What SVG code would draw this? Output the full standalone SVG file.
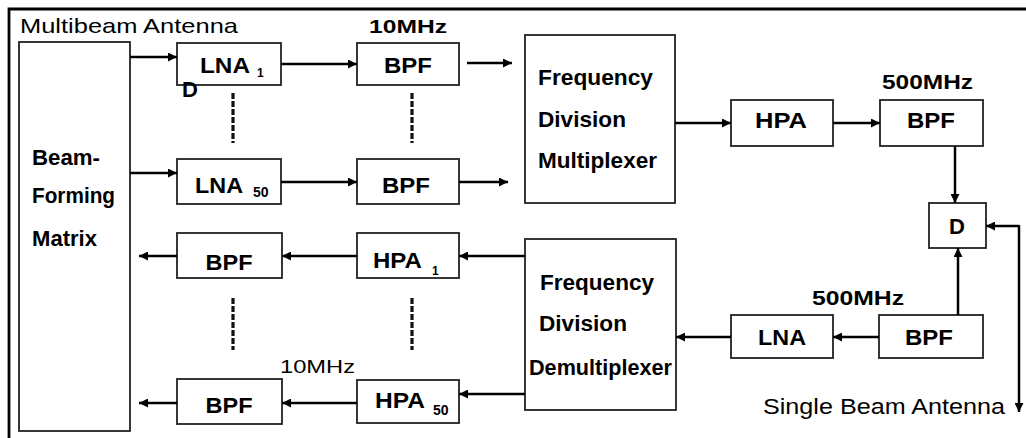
<svg xmlns="http://www.w3.org/2000/svg" width="1026" height="438" viewBox="0 0 1026 438">
<defs>
<style>
.box{fill:#fff;stroke:#222;stroke-width:1.8}
.ln{fill:none;stroke:#000;stroke-width:2.5}
.dash{fill:none;stroke:#111;stroke-width:3.2;stroke-dasharray:6 2}
.b{font-family:"Liberation Sans",Arial,sans-serif;font-weight:bold;font-size:22px;fill:#000}
.r{font-family:"Liberation Sans",Arial,sans-serif;font-size:21px;fill:#000}
.sub{font-family:"Liberation Sans",Arial,sans-serif;font-weight:bold;font-size:14px;fill:#000}
</style>
<marker id="ah" viewBox="0 0 10 10" refX="10" refY="5" markerWidth="10" markerHeight="9" markerUnits="userSpaceOnUse" orient="auto">
<path d="M0,0 L10,5 L0,10 z" fill="#000"/>
</marker>
</defs>
<rect x="0" y="0" width="1026" height="438" fill="#fff"/>
<g id="frame">
<path d="M9,438 L9,9 L1026,9" fill="none" stroke="#000" stroke-width="2.8"/>
</g>
<text class="r" x="20" y="33" textLength="218" lengthAdjust="spacingAndGlyphs">Multibeam Antenna</text>
<text class="b" x="369" y="33" textLength="78" lengthAdjust="spacingAndGlyphs" style="font-size:19px">10MHz</text>
<text class="b" x="882" y="89" textLength="91" lengthAdjust="spacingAndGlyphs" style="font-size:21px">500MHz</text>
<text class="b" x="812" y="305" textLength="92" lengthAdjust="spacingAndGlyphs" style="font-size:21px">500MHz</text>
<text class="r" x="280" y="373" textLength="75" lengthAdjust="spacingAndGlyphs" style="font-size:19px">10MHz</text>
<text class="r" x="763" y="414" textLength="242" lengthAdjust="spacingAndGlyphs" style="font-size:22px">Single Beam Antenna</text>

<g id="matrix">
<rect class="box" x="19" y="42" width="111" height="389"/>
<text class="b" x="32" y="165" textLength="68" lengthAdjust="spacingAndGlyphs">Beam-</text>
<text class="b" x="32" y="203" textLength="83" lengthAdjust="spacingAndGlyphs">Forming</text>
<text class="b" x="32" y="246" textLength="65" lengthAdjust="spacingAndGlyphs">Matrix</text>
</g>
<g id="lna1">
<rect class="box" x="177" y="43" width="104" height="42"/>
<text class="b" x="200" y="73" textLength="50" lengthAdjust="spacingAndGlyphs">LNA</text>
<text class="sub" x="257" y="77" style="font-size:12px">1</text>
<text class="b" x="182" y="97">D</text>
</g>
<g id="bpf1">
<rect class="box" x="357" y="43" width="102" height="42"/>
<text class="b" x="408" y="73" text-anchor="middle" textLength="48" lengthAdjust="spacingAndGlyphs">BPF</text>
</g>
<g id="lna50">
<rect class="box" x="177" y="159" width="104" height="45"/>
<text class="b" x="195" y="193" textLength="48" lengthAdjust="spacingAndGlyphs">LNA</text>
<text class="sub" x="253" y="197">50</text>
</g>
<g id="bpf50">
<rect class="box" x="357" y="159" width="102" height="45"/>
<text class="b" x="406" y="193" text-anchor="middle" textLength="48" lengthAdjust="spacingAndGlyphs">BPF</text>
</g>
<g id="fdm">
<rect class="box" x="525" y="35" width="150" height="168"/>
<text class="b" x="538" y="85" textLength="115" lengthAdjust="spacingAndGlyphs">Frequency</text>
<text class="b" x="538" y="127" textLength="88" lengthAdjust="spacingAndGlyphs">Division</text>
<text class="b" x="538" y="168" textLength="119" lengthAdjust="spacingAndGlyphs">Multiplexer</text>
</g>
<g id="hpa">
<rect class="box" x="731" y="100" width="102" height="46"/>
<text class="b" x="781" y="128" text-anchor="middle" textLength="52" lengthAdjust="spacingAndGlyphs">HPA</text>
</g>
<g id="bpfTx">
<rect class="box" x="880" y="100" width="103" height="46"/>
<text class="b" x="931" y="128" text-anchor="middle" textLength="48" lengthAdjust="spacingAndGlyphs">BPF</text>
</g>
<g id="diplexer">
<rect class="box" x="929" y="203" width="57" height="45"/>
<text class="b" x="957" y="234" text-anchor="middle">D</text>
</g>
<g id="fddm">
<rect class="box" x="525" y="239" width="151" height="171"/>
<text class="b" x="540" y="290" textLength="114" lengthAdjust="spacingAndGlyphs">Frequency</text>
<text class="b" x="539" y="331" textLength="88" lengthAdjust="spacingAndGlyphs">Division</text>
<text class="b" x="529" y="375" textLength="143" lengthAdjust="spacingAndGlyphs">Demultiplexer</text>
</g>
<g id="lnaRx">
<rect class="box" x="731" y="315" width="102" height="43"/>
<text class="b" x="782" y="345" text-anchor="middle" textLength="48" lengthAdjust="spacingAndGlyphs">LNA</text>
</g>
<g id="bpfRx">
<rect class="box" x="879" y="315" width="104" height="43"/>
<text class="b" x="929" y="345" text-anchor="middle" textLength="48" lengthAdjust="spacingAndGlyphs">BPF</text>
</g>
<g id="hpa1">
<rect class="box" x="357" y="233" width="102" height="45"/>
<text class="b" x="373" y="268" textLength="49" lengthAdjust="spacingAndGlyphs">HPA</text>
<text class="sub" x="432" y="275" style="font-size:12px">1</text>
</g>
<g id="bpfA">
<rect class="box" x="177" y="233" width="105" height="45"/>
<text class="b" x="229" y="270" text-anchor="middle" textLength="47" lengthAdjust="spacingAndGlyphs">BPF</text>
</g>
<g id="hpa50">
<rect class="box" x="357" y="380" width="102" height="43"/>
<text class="b" x="375" y="408" textLength="50" lengthAdjust="spacingAndGlyphs">HPA</text>
<text class="sub" x="433" y="415">50</text>
</g>
<g id="bpfB">
<rect class="box" x="177" y="379" width="105" height="45"/>
<text class="b" x="229" y="413" text-anchor="middle" textLength="47" lengthAdjust="spacingAndGlyphs">BPF</text>
</g>

<g id="connectors">
<path class="ln" d="M130,57 L177,57" marker-end="url(#ah)"/>
<path class="ln" d="M281,64 L357,64" marker-end="url(#ah)"/>
<path class="ln" d="M467,63 L512,63" marker-end="url(#ah)"/>
<path class="ln" d="M130,173 L177,173" marker-end="url(#ah)"/>
<path class="ln" d="M281,182 L357,182" marker-end="url(#ah)"/>
<path class="ln" d="M459,182 L508,182" marker-end="url(#ah)"/>
<path class="ln" d="M675,123 L731,123" marker-end="url(#ah)"/>
<path class="ln" d="M833,123 L880,123" marker-end="url(#ah)"/>
<path class="ln" d="M955,146 L955,203" marker-end="url(#ah)"/>
<path class="ln" d="M958,315 L958,248" marker-end="url(#ah)"/>
<path class="ln" d="M1019,226 L986,226" marker-end="url(#ah)"/>
<path class="ln" d="M1019,225 L1019,412" marker-end="url(#ah)"/>
<path class="ln" d="M879,337 L833,337" marker-end="url(#ah)"/>
<path class="ln" d="M731,337 L676,337" marker-end="url(#ah)"/>
<path class="ln" d="M525,256 L459,256" marker-end="url(#ah)"/>
<path class="ln" d="M357,256 L282,256" marker-end="url(#ah)"/>
<path class="ln" d="M177,256 L139,256" marker-end="url(#ah)"/>
<path class="ln" d="M525,394 L459,394" marker-end="url(#ah)"/>
<path class="ln" d="M357,403 L282,403" marker-end="url(#ah)"/>
<path class="ln" d="M177,403 L139,403" marker-end="url(#ah)"/>
<path class="dash" d="M233,93 L233,143"/>
<path class="dash" d="M412,93 L412,143"/>
<path class="dash" d="M233,298 L233,350"/>
<path class="dash" d="M412,298 L412,350"/>
</g>
</svg>
